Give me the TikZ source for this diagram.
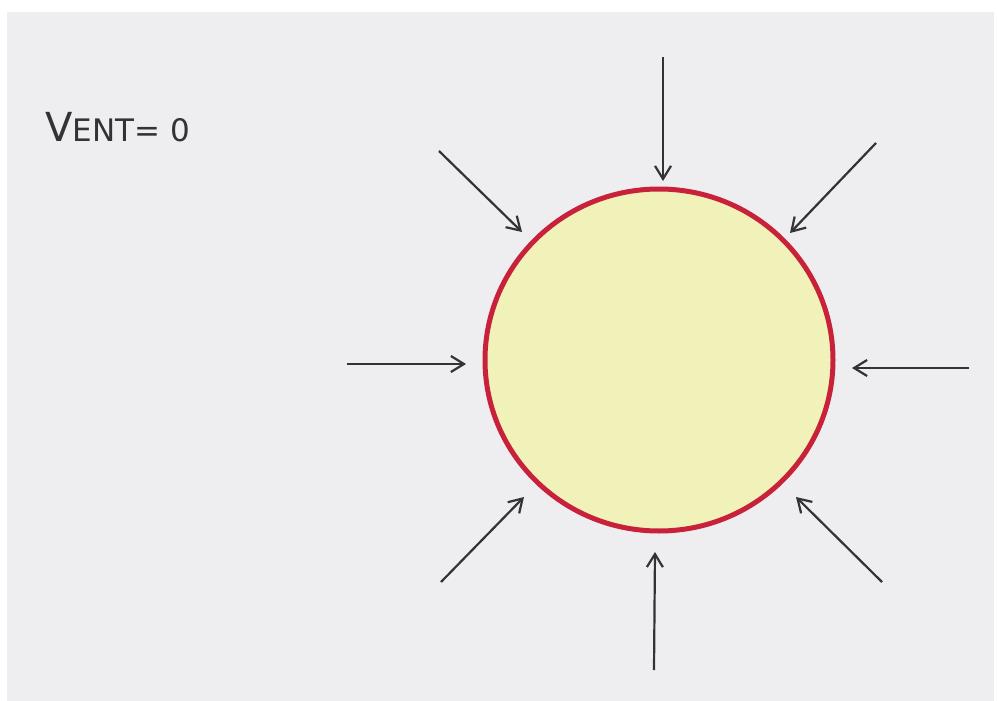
\documentclass[tikz,border=0pt]{standalone}
\usepackage{fontspec}
\setmainfont{DejaVu Sans}
\usetikzlibrary{arrows.meta,shapes.geometric}
\definecolor{paper}{HTML}{EEEDF0}
\definecolor{rim}{HTML}{C8213A}
\definecolor{ballfill}{HTML}{F1F1BA}
\definecolor{ink}{HTML}{333333}
\tikzset{
  push/.style={draw=ink, line width=2.2pt, -{Straight Barb[length=13pt,width=16pt,line width=2.2pt]}},
  ballstyle/.style={ellipse, draw=rim, line width=5pt, fill=ballfill, minimum width=348pt, minimum height=342pt, inner sep=0pt},
  label/.style={text=ink, inner sep=0pt}
}
\begin{document}
\begin{tikzpicture}[x=1pt,y=-1pt]
\useasboundingbox (0,0) rectangle (997,701);
\fill[white] (0,0) rectangle (997,701);
\fill[paper] (7,12) rectangle (994,701);
\node[ballstyle] (ball) at (659,360) {};
\node[label, anchor=west] (vent) at (45,127) {\fontsize{40}{40}\selectfont V\fontsize{31}{31}\selectfont ENT= 0};
% arrow ends
\coordinate (t1) at (663,57);   \coordinate (h1) at (663,181);
\coordinate (t2) at (439,151);  \coordinate (h2) at (522,232);
\coordinate (t3) at (876,143);  \coordinate (h3) at (790,233);
\coordinate (t4) at (347,364);  \coordinate (h4) at (466,364);
\coordinate (t5) at (969,368);  \coordinate (h5) at (852,368);
\coordinate (t6) at (441,582);  \coordinate (h6) at (524,497);
\coordinate (t7) at (654,670);  \coordinate (h7) at (655,552);
\coordinate (t8) at (882,582);  \coordinate (h8) at (796,497);
\foreach \i in {1,...,8} \draw[push] (t\i) -- (h\i);
\end{tikzpicture}
\end{document}
